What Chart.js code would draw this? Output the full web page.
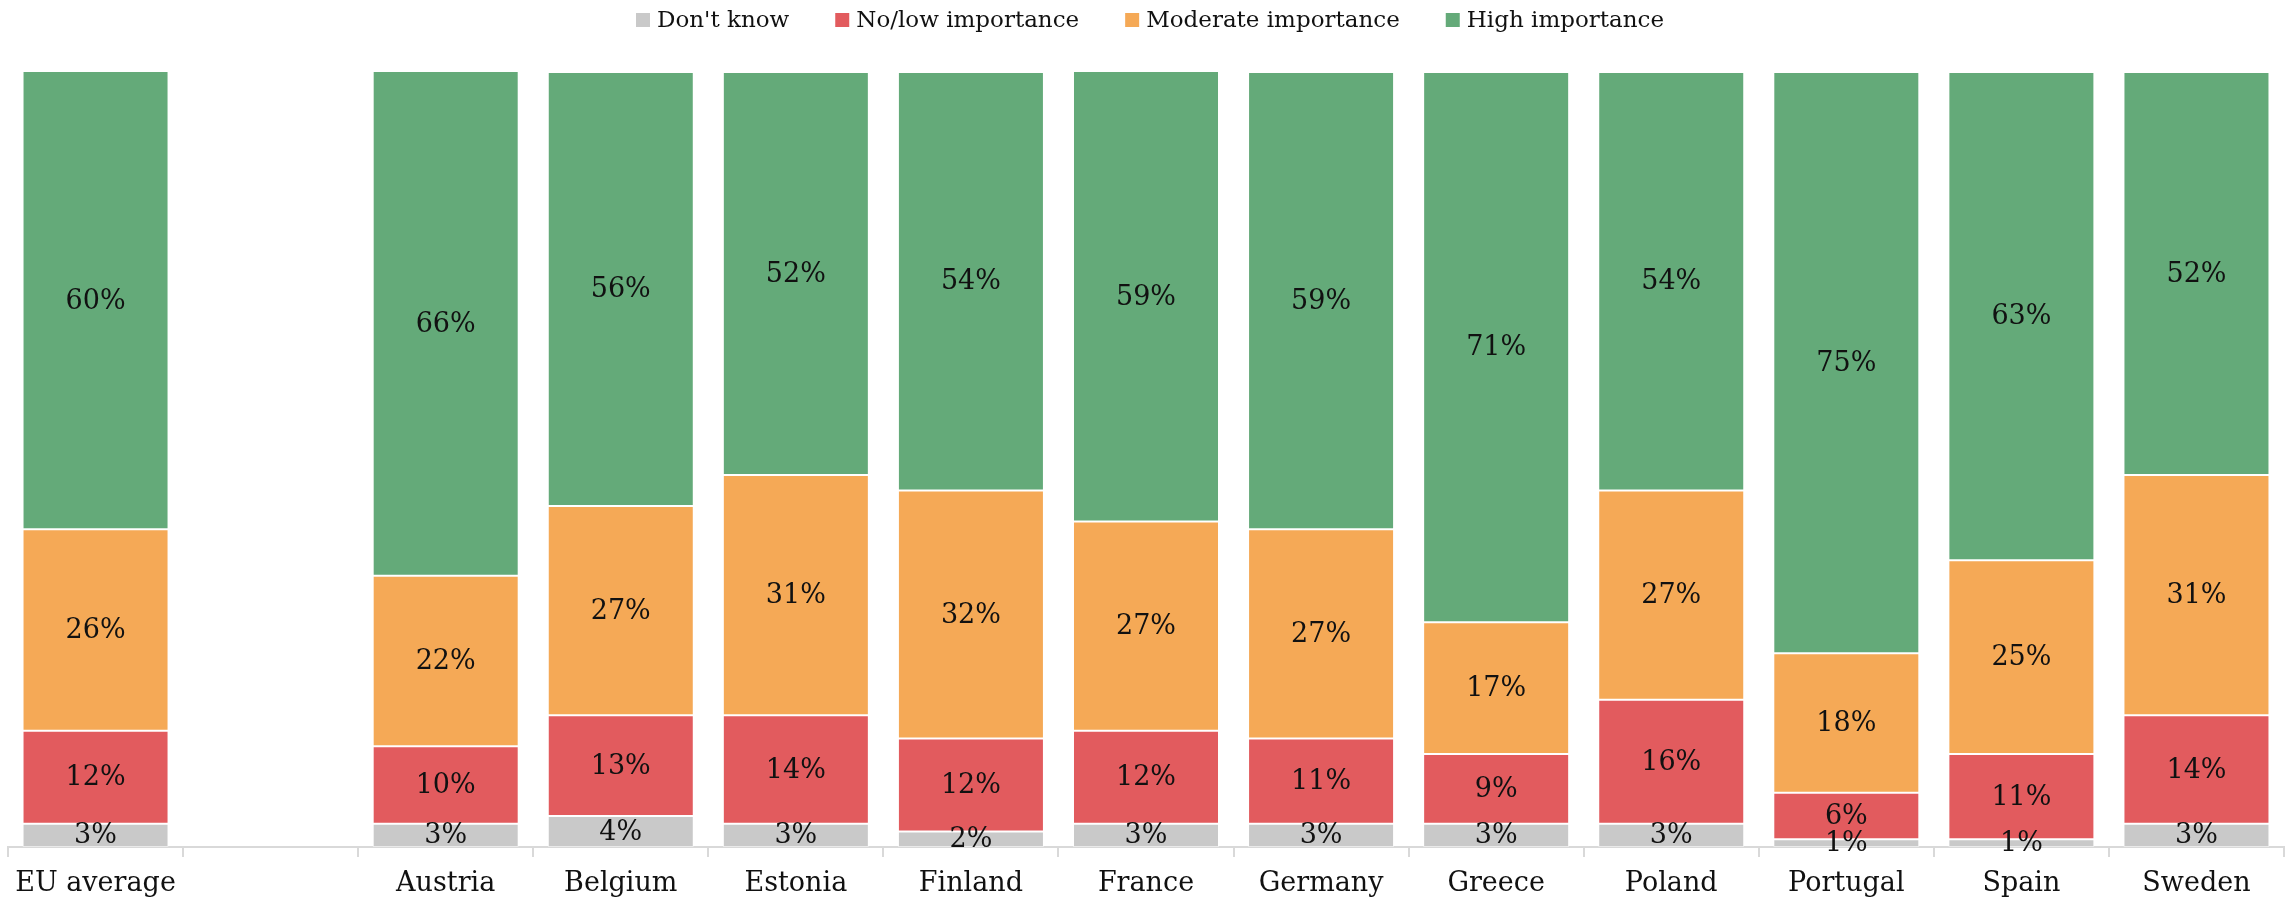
<!DOCTYPE html>
<html>
<head>
<meta charset="utf-8">
<script src="https://cdn.jsdelivr.net/npm/chart.js@4/dist/chart.umd.min.js"></script>
<style>
  html, body { margin: 0; padding: 0; background: #ffffff; }
  #wrap { width: 2285px; height: 897px; position: relative; }
</style>
</head>
<body>
<div id="wrap"><canvas id="chart" width="2285" height="897"></canvas></div>
<script>
// Share of respondents by importance rating, per country (%)
const categories = ['EU average', '', 'Austria', 'Belgium', 'Estonia', 'Finland', 'France', 'Germany', 'Greece', 'Poland', 'Portugal', 'Spain', 'Sweden'];
const dontKnow   = [3,  null, 3,  4,  3,  2,  3,  3,  3,  3,  1,  1,  3];
const noLow      = [12, null, 10, 13, 14, 12, 12, 11, 9,  16, 6,  11, 14];
const moderate   = [26, null, 22, 27, 31, 32, 27, 27, 17, 27, 18, 25, 31];
const high       = [60, null, 66, 56, 52, 54, 59, 59, 71, 54, 75, 63, 52];
const seriesNames = ["Don't know", 'No/low importance', 'Moderate importance', 'High importance'];

const COLORS = ['#c9c9c9', '#e25b5e', '#f5a956', '#64aa79'];
const FONT_FAMILY = '"DejaVu Serif", "Liberation Serif", serif';
const TEXT = '#111111';

// Value labels centred in each stacked segment
const segmentLabels = {
  id: 'segmentLabels',
  afterDatasetsDraw(chart) {
    const ctx = chart.ctx;
    ctx.save();
    ctx.font = '27px ' + FONT_FAMILY;
    ctx.fillStyle = TEXT;
    ctx.textAlign = 'center';
    ctx.textBaseline = 'middle';
    chart.data.datasets.forEach((ds, i) => {
      const meta = chart.getDatasetMeta(i);
      meta.data.forEach((bar, j) => {
        const v = ds.data[j];
        if (v === null || v === undefined) return;
        const props = bar.getProps(['x', 'y', 'base'], true);
        const top = Math.max(props.y, chart.chartArea.top);
        ctx.fillText(v + '%', props.x, (top + props.base) / 2 + 1);
      });
    });
    ctx.restore();
  }
};

// Centred legend row above the plot
const topLegend = {
  id: 'topLegend',
  afterDraw(chart) {
    const ctx = chart.ctx;
    ctx.save();
    ctx.font = '23px ' + FONT_FAMILY;
    ctx.textBaseline = 'middle';
    ctx.textAlign = 'left';
    const box = 14, gap = 7, spacing = 46;
    const items = chart.data.datasets.map(ds => ({
      label: ds.label, color: ds.backgroundColor, w: box + gap + ctx.measureText(ds.label).width
    }));
    const total = items.reduce((s, it) => s + it.w, 0) + spacing * (items.length - 1);
    const cx = (chart.chartArea.left + chart.chartArea.right) / 2 + 4;
    let x = cx - total / 2;
    const y = 20;
    items.forEach(it => {
      ctx.fillStyle = it.color;
      ctx.fillRect(x, y - box / 2, box, box);
      ctx.fillStyle = TEXT;
      ctx.fillText(it.label, x + box + gap, y + 1);
      x += it.w + spacing;
    });
    ctx.restore();
  }
};

const seriesValues = [dontKnow, noLow, moderate, high];
const datasets = seriesValues.map((vals, i) => ({
  label: seriesNames[i],
  data: vals,
  backgroundColor: COLORS[i],
  borderColor: 'rgba(255,255,255,0.45)',
  borderWidth: 1,
  borderSkipped: false,
  categoryPercentage: 1,
  barPercentage: 0.834
}));

new Chart(document.getElementById('chart'), {
  type: 'bar',
  data: { labels: categories, datasets },
  options: {
    responsive: false,
    animation: false,
    layout: { padding: { top: 72, left: 8, right: 1, bottom: -13 } },
    plugins: {
      legend: { display: false },
      tooltip: { enabled: false }
    },
    scales: {
      x: {
        stacked: true,
        offset: true,
        grid: {
          display: true,
          offset: true,
          drawOnChartArea: false,
          drawTicks: true,
          tickLength: 10,
          color: '#d9d9d9',
          lineWidth: 2
        },
        border: { display: true, color: '#d9d9d9', width: 2 },
        ticks: {
          color: TEXT,
          font: { family: FONT_FAMILY, size: 27, lineHeight: 1.0 },
          padding: 13,
          maxRotation: 0,
          autoSkip: false
        }
      },
      y: {
        stacked: true,
        display: false,
        min: 0,
        max: 100
      }
    }
  },
  plugins: [segmentLabels, topLegend]
});
</script>
</body>
</html>
